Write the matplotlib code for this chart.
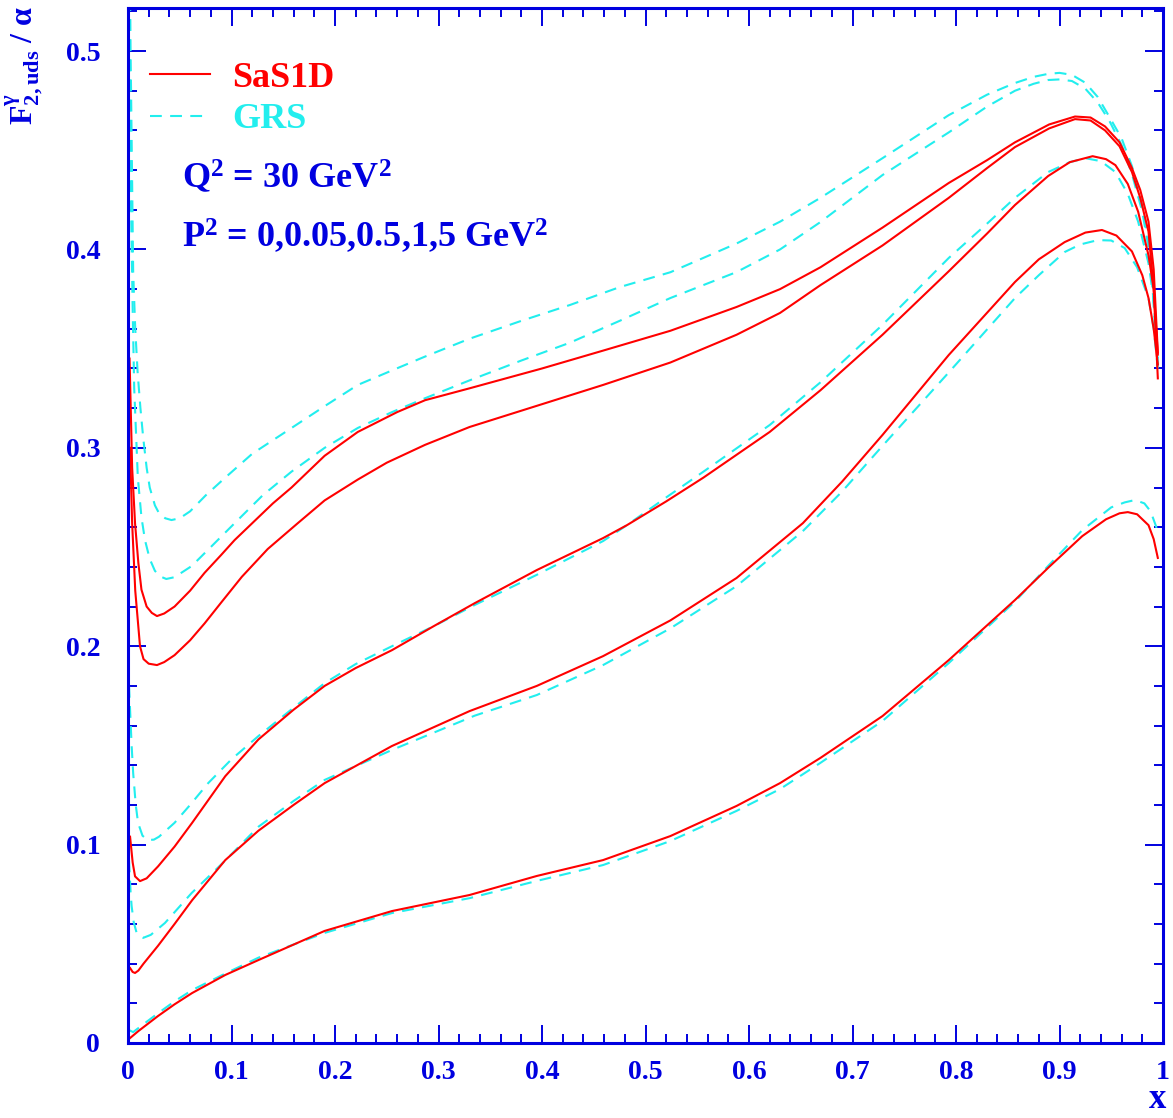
import numpy as np
import matplotlib
matplotlib.use('Agg')
import matplotlib.pyplot as plt
from matplotlib.ticker import MultipleLocator, FuncFormatter
from matplotlib.lines import Line2D

plt.rcParams['font.family'] = ['Liberation Serif', 'DejaVu Serif']
plt.rcParams['font.weight'] = 'bold'
plt.rcParams['mathtext.fontset'] = 'custom'
plt.rcParams['mathtext.rm'] = 'Liberation Serif:bold'
plt.rcParams['mathtext.bf'] = 'Liberation Serif:bold'
plt.rcParams['mathtext.it'] = 'Liberation Serif:bold'
plt.rcParams['mathtext.default'] = 'rm'
plt.rcParams['lines.scale_dashes'] = False

BLUE = '#0000e0'
RED = '#ff0000'
CYAN = '#22eeee'

# SaS1D, P^2 = 0, 0.05, 0.5, 1, 5 GeV^2 (top to bottom)
sas_x1 = [0.0015, 0.004, 0.0068, 0.010, 0.013, 0.018, 0.023, 0.028, 0.035, 0.045, 0.06, 0.074,
          0.09, 0.103, 0.12, 0.14, 0.158, 0.19, 0.222, 0.26, 0.287, 0.33, 0.40, 0.459, 0.524,
          0.588, 0.63, 0.669, 0.729, 0.793, 0.83, 0.857, 0.89, 0.915, 0.93, 0.944, 0.958, 0.970,
          0.978, 0.986, 0.991, 0.995]
sas_y1 = [0.345, 0.29, 0.262, 0.242, 0.2285, 0.220, 0.2168, 0.2152, 0.2165, 0.220, 0.228, 0.237,
          0.246, 0.2535, 0.262, 0.272, 0.280, 0.296, 0.308, 0.318, 0.324, 0.330, 0.340, 0.349, 0.359,
          0.371, 0.380, 0.391, 0.411, 0.4335, 0.445, 0.454, 0.463, 0.467, 0.4665, 0.462, 0.454, 0.441,
          0.43, 0.414, 0.39, 0.348]

sas_x2 = [0.002, 0.004, 0.007, 0.0116, 0.015, 0.020, 0.028, 0.035, 0.045, 0.06, 0.074, 0.09,
          0.11, 0.135, 0.164, 0.19, 0.222, 0.25, 0.287, 0.33, 0.40, 0.459, 0.524, 0.588, 0.63,
          0.669, 0.729, 0.793, 0.83, 0.857, 0.89, 0.915, 0.93, 0.944, 0.958, 0.970, 0.978, 0.986,
          0.991, 0.995]
sas_y2 = [0.30, 0.262, 0.228, 0.200, 0.1935, 0.1912, 0.1905, 0.192, 0.1955, 0.203, 0.2115, 0.222,
          0.235, 0.249, 0.262, 0.2735, 0.284, 0.2925, 0.3015, 0.3105, 0.322, 0.3317, 0.343, 0.357, 0.368,
          0.382, 0.402, 0.426, 0.441, 0.4516, 0.461, 0.4657, 0.465, 0.460, 0.452, 0.439, 0.426, 0.409,
          0.38, 0.335]

sas_x3 = [0.002, 0.0045, 0.0068, 0.0116, 0.018, 0.029, 0.045, 0.062, 0.094, 0.126, 0.16, 0.19,
          0.22, 0.255, 0.295, 0.335, 0.395, 0.459, 0.482, 0.52, 0.556, 0.62, 0.669, 0.729, 0.793,
          0.83, 0.857, 0.889, 0.91, 0.932, 0.945, 0.954, 0.966, 0.976, 0.986, 0.991, 0.995]
sas_y3 = [0.104, 0.091, 0.084, 0.0816, 0.083, 0.089, 0.099, 0.111, 0.1345, 0.153, 0.168, 0.180,
          0.189, 0.198, 0.210, 0.2217, 0.2384, 0.2545, 0.261, 0.273, 0.285, 0.308, 0.329, 0.357, 0.389,
          0.408, 0.4224, 0.437, 0.444, 0.447, 0.4455, 0.4425, 0.433, 0.419, 0.397, 0.38, 0.347]

sas_x4 = [0.002, 0.0045, 0.0068, 0.010, 0.015, 0.029, 0.045, 0.062, 0.094, 0.126, 0.16, 0.19,
          0.255, 0.33, 0.395, 0.459, 0.524, 0.588, 0.652, 0.69, 0.729, 0.793, 0.857, 0.88, 0.905,
          0.925, 0.941, 0.955, 0.970, 0.98, 0.986, 0.991, 0.995]
sas_y4 = [0.0378, 0.0358, 0.0353, 0.0365, 0.040, 0.049, 0.060, 0.072, 0.0922, 0.107, 0.120, 0.131,
          0.1497, 0.1673, 0.180, 0.195, 0.213, 0.2344, 0.262, 0.283, 0.3065, 0.3468, 0.3836, 0.395,
          0.4037, 0.4085, 0.4098, 0.407, 0.399, 0.387, 0.3755, 0.36, 0.342]

sas_x5 = [0.002, 0.01, 0.029, 0.045, 0.062, 0.094, 0.126, 0.19, 0.255, 0.33, 0.395, 0.459, 0.524,
          0.588, 0.63, 0.669, 0.729, 0.793, 0.857, 0.89, 0.922, 0.945, 0.958, 0.966, 0.975, 0.986,
          0.991, 0.995]
sas_y5 = [0.0025, 0.006, 0.0136, 0.0195, 0.0252, 0.0343, 0.0418, 0.0565, 0.0665, 0.0746, 0.0842,
          0.0922, 0.1043, 0.1195, 0.131, 0.1437, 0.1648, 0.193, 0.2233, 0.240, 0.2555, 0.264, 0.267,
          0.2676, 0.2665, 0.261, 0.254, 0.2445]

# GRS, same P^2 values
grs_x1 = [0.001, 0.0025, 0.0035, 0.005, 0.007, 0.0093, 0.012, 0.0147, 0.018, 0.021, 0.026, 0.030,
          0.036, 0.042, 0.05, 0.06, 0.075, 0.094, 0.12, 0.158, 0.19, 0.222, 0.255, 0.287, 0.33,
          0.38, 0.427, 0.475, 0.524, 0.588, 0.63, 0.669, 0.729, 0.793, 0.83, 0.857, 0.875, 0.889,
          0.90, 0.912, 0.925, 0.937, 0.948, 0.960, 0.970, 0.980, 0.988, 0.995]
grs_y1 = [0.60, 0.50, 0.456, 0.3886, 0.36, 0.338, 0.32, 0.305, 0.29, 0.28, 0.271, 0.267,
          0.2645, 0.2636, 0.2645, 0.268, 0.276, 0.285, 0.297, 0.31, 0.321, 0.3317, 0.339, 0.346, 0.355,
          0.364, 0.372, 0.381, 0.3885, 0.403, 0.414, 0.426, 0.446, 0.4677, 0.478, 0.4839, 0.487, 0.4885,
          0.489, 0.488, 0.484, 0.4768, 0.467, 0.456, 0.442, 0.4224, 0.398, 0.345]

grs_x2 = [0.001, 0.002, 0.003, 0.0045, 0.006, 0.0095, 0.013, 0.0164, 0.021, 0.026, 0.031, 0.037,
          0.045, 0.0615, 0.08, 0.103, 0.13, 0.158, 0.19, 0.222, 0.255, 0.287, 0.33, 0.38, 0.427,
          0.475, 0.524, 0.588, 0.63, 0.669, 0.729, 0.793, 0.83, 0.857, 0.875, 0.889, 0.90, 0.912,
          0.925, 0.937, 0.948, 0.960, 0.970, 0.980, 0.988, 0.995]
grs_y2 = [0.56, 0.48, 0.42, 0.37, 0.33, 0.285, 0.265, 0.2535, 0.244, 0.238, 0.2352, 0.2339,
          0.2348, 0.2404, 0.25, 0.262, 0.276, 0.288, 0.30, 0.310, 0.318, 0.325, 0.334, 0.344, 0.353,
          0.364, 0.3755, 0.3886, 0.40, 0.4138, 0.4375, 0.459, 0.472, 0.480, 0.4835, 0.4854, 0.4857,
          0.4849, 0.481, 0.474, 0.465, 0.4526, 0.438, 0.419, 0.395, 0.34]

grs_x3 = [0.001, 0.002, 0.0035, 0.005, 0.0075, 0.0097, 0.014, 0.019, 0.025, 0.030, 0.045, 0.06,
          0.0775, 0.1, 0.126, 0.16, 0.19, 0.22, 0.255, 0.295, 0.335, 0.395, 0.459, 0.482, 0.52,
          0.556, 0.62, 0.669, 0.729, 0.793, 0.83, 0.857, 0.889, 0.91, 0.925, 0.94, 0.954, 0.966,
          0.976, 0.986, 0.991, 0.995]
grs_y3 = [0.18, 0.168, 0.15, 0.136, 0.12, 0.111, 0.1045, 0.1023, 0.1025, 0.104, 0.111, 0.12,
          0.131, 0.143, 0.1547, 0.169, 0.1814, 0.191, 0.200, 0.210, 0.2208, 0.236, 0.253, 0.261, 0.275,
          0.288, 0.3115, 0.333, 0.362, 0.3957, 0.413, 0.426, 0.439, 0.444, 0.446, 0.4445, 0.439, 0.428,
          0.414, 0.393, 0.375, 0.342]

grs_x4 = [0.001, 0.0025, 0.0035, 0.0055, 0.0084, 0.0147, 0.022, 0.0357, 0.0615, 0.094, 0.126,
          0.16, 0.19, 0.255, 0.335, 0.395, 0.459, 0.524, 0.588, 0.652, 0.69, 0.729, 0.793, 0.857,
          0.88, 0.905, 0.92, 0.937, 0.95, 0.963, 0.975, 0.986, 0.991, 0.995]
grs_y4 = [0.092, 0.076, 0.069, 0.061, 0.0554, 0.053, 0.0545, 0.0605, 0.0756, 0.092, 0.109,
          0.122, 0.1326, 0.1477, 0.165, 0.1754, 0.1905, 0.209, 0.2303, 0.258, 0.278, 0.301, 0.338, 0.3755,
          0.387, 0.3987, 0.4025, 0.4047, 0.4045, 0.4007, 0.391, 0.3755, 0.36, 0.34]

grs_x5 = [0.001, 0.005, 0.015, 0.029, 0.045, 0.062, 0.094, 0.126, 0.19, 0.255, 0.33, 0.395, 0.459,
          0.524, 0.588, 0.63, 0.669, 0.729, 0.793, 0.857, 0.89, 0.922, 0.950, 0.963, 0.973, 0.982,
          0.988, 0.995]
grs_y5 = [0.0065, 0.0055, 0.0095, 0.015, 0.021, 0.0267, 0.035, 0.043, 0.0555, 0.0655, 0.073, 0.0817,
          0.0897, 0.1018, 0.117, 0.128, 0.1412, 0.1623, 0.1915, 0.2225, 0.241, 0.2585, 0.270, 0.2725,
          0.2737, 0.272, 0.268, 0.258]

sas = [(sas_x1, sas_y1), (sas_x2, sas_y2), (sas_x3, sas_y3), (sas_x4, sas_y4), (sas_x5, sas_y5)]
grs = [(grs_x1, grs_y1), (grs_x2, grs_y2), (grs_x3, grs_y3), (grs_x4, grs_y4), (grs_x5, grs_y5)]

fig = plt.figure(figsize=(11.73, 11.18), dpi=100)
ax = fig.add_axes([128/1173, 75/1118, 1035/1173, 1035/1118])

for x, y in grs:
    ax.plot(x, y, color=CYAN, lw=1.5, dashes=(8.5, 6), solid_joinstyle='round')
for x, y in sas:
    ax.plot(x, y, color=RED, lw=1.5, solid_joinstyle='round')

ax.set_xlim(0, 1)
ax.set_ylim(0, 0.5217)

ax.xaxis.set_major_locator(MultipleLocator(0.1))
ax.xaxis.set_minor_locator(MultipleLocator(0.02))
ax.yaxis.set_major_locator(MultipleLocator(0.1))
ax.yaxis.set_minor_locator(MultipleLocator(0.02))
fmt = FuncFormatter(lambda v, p: f'{v:g}')
ax.xaxis.set_major_formatter(fmt)
ax.yaxis.set_major_formatter(fmt)

ax.tick_params(which='both', direction='in', top=True, right=True, colors=BLUE,
               labelsize=20, width=1.4)
ax.tick_params(which='major', length=13)
ax.tick_params(which='minor', length=6.5)
ax.tick_params(axis='x', pad=12)
ax.tick_params(axis='y', pad=20)
for s in ax.spines.values():
    s.set_color(BLUE)
    s.set_linewidth(2.2)

handles = [Line2D([], [], color=RED, lw=1.5),
           Line2D([], [], color=CYAN, lw=1.5, dashes=(8.5, 6))]
ax.legend(handles, ['SaS1D', 'GRS'], loc='upper left', bbox_to_anchor=(0.0213, 0.948),
          frameon=False, fontsize=26, handlelength=1.66, handletextpad=0.61,
          labelspacing=0.22, borderpad=0, borderaxespad=0, labelcolor='linecolor')

ax.text(0.052, 0.826, r'Q$^{2}$ = 30 GeV$^{2}$', transform=ax.transAxes,
        color=BLUE, fontsize=26, va='baseline')
ax.text(0.052, 0.769, r'P$^{2}$ = 0,0.05,0.5,1,5 GeV$^{2}$', transform=ax.transAxes,
        color=BLUE, fontsize=26, va='baseline')

fig.text(25/1173, 1 - 6/1118, r'$\mathrm{F^{\gamma}_{2,uds}}$ / $\alpha$', rotation=90,
         ha='center', va='top', color=BLUE, fontsize=23)
fig.text(1158/1173, 1 - 1116/1118, 'x', ha='center', va='bottom', color=BLUE, fontsize=25)

fig.savefig('out.png', dpi=100)
